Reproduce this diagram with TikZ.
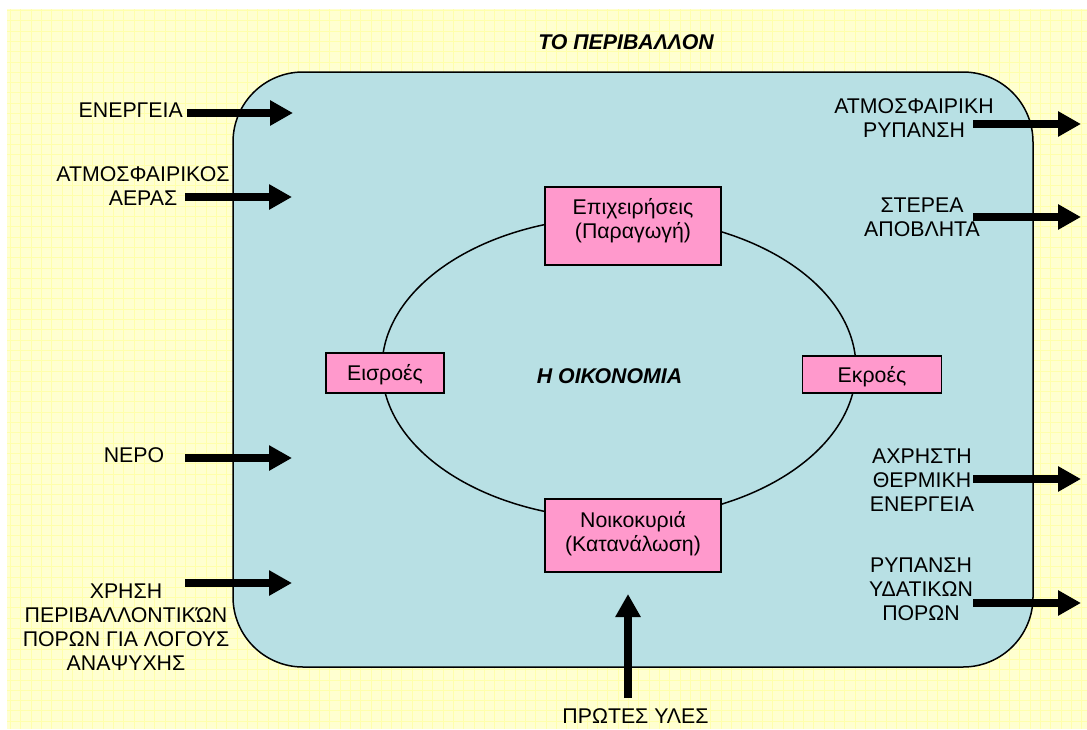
\documentclass[tikz,border=0pt]{standalone}
\usepackage{fontspec}
\setmainfont{Liberation Sans}
\usetikzlibrary{arrows.meta}
\definecolor{bgyellow}{RGB}{255,255,208}
\definecolor{gridyellow}{RGB}{255,255,172}
\definecolor{envblue}{RGB}{184,224,228}
\definecolor{boxpink}{RGB}{255,153,204}
\begin{document}
\begin{tikzpicture}[x=1pt,y=-1pt,
  lbl/.style={font=\fontsize{21.3}{24}\selectfont, align=center, inner sep=0pt},
  titlelbl/.style={font=\fontsize{21.3}{24}\selectfont\bfseries\itshape, inner sep=0pt},
  ecobox/.style={draw=black, line width=1.5pt, fill=boxpink, inner sep=0pt},
  boxtext/.style={font=\fontsize{21.3}{24}\selectfont, text height=15pt, text depth=0pt},
  bigarrow/.style={line width=8pt, -{Triangle[width=24pt,length=23pt]}}]
\useasboundingbox (0,0) rectangle (1087,729);
% background
\fill[bgyellow] (7,9) rectangle (1087,729);
\draw[gridyellow, line width=0.6pt, step=10.3pt] (7,9) grid (1087,729);
% environment
\draw[line width=1.5pt, fill=envblue, rounded corners=70pt] (233,72) rectangle (1033,667);
\node[titlelbl] (env) at (626,42.5) {ΤΟ ΠΕΡΙΒΑΛΛΟΝ};
% economy circle
\draw[line width=1.5pt] (619,368) ellipse [x radius=237, y radius=151];
\node[titlelbl] (economy) at (609.5,376) {Η ΟΙΚΟΝΟΜΙΑ};
% boxes
\node[ecobox, minimum width=176pt, minimum height=78pt] (firms) at (633,226) {};
\node[lbl] (firmstext) at (633,221) {Επιχειρήσεις\\(Παραγωγή)};
\node[ecobox, minimum width=176pt, minimum height=73pt] (house) at (633,535.5) {};
\node[lbl] (housetext) at (633,534) {Νοικοκυριά\\(Κατανάλωση)};
\node[ecobox, boxtext, minimum width=118pt, minimum height=40pt] (inputs) at (385,373) {Εισροές};
\node[ecobox, boxtext, minimum width=139pt, minimum height=37pt] (outputs) at (872,374.5) {Εκροές};
% left labels
\node[lbl, anchor=east] (energy) at (183,110.5) {ΕΝΕΡΓΕΙΑ};
\node[lbl] (air) at (143,186) {ΑΤΜΟΣΦΑΙΡΙΚΟΣ\\ΑΕΡΑΣ};
\node[lbl] (water) at (134,455.5) {ΝΕΡΟ};
\node[lbl] (recr) at (126,627) {ΧΡΗΣΗ\\ΠΕΡΙΒΑΛΛΟΝΤΙΚΏΝ\\ΠΟΡΩΝ ΓΙΑ ΛΟΓΟΥΣ\\ΑΝΑΨΥΧΗΣ};
% right labels
\node[lbl] (airpol) at (914,118) {ΑΤΜΟΣΦΑΙΡΙΚΗ\\ΡΥΠΑΝΣΗ};
\node[lbl] (solid) at (922,217.5) {ΣΤΕΡΕΑ\\ΑΠΟΒΛΗΤΑ};
\node[lbl] (heat) at (922,480.5) {ΑΧΡΗΣΤΗ\\ΘΕΡΜΙΚΗ\\ΕΝΕΡΓΕΙΑ};
\node[lbl] (waterpol) at (921,589) {ΡΥΠΑΝΣΗ\\ΥΔΑΤΙΚΩΝ\\ΠΟΡΩΝ};
% bottom label
\node[lbl] (raw) at (635.5,716) {ΠΡΩΤΕΣ ΥΛΕΣ};
% arrow coordinates
\coordinate (s1) at (187,113);  \coordinate (t1) at (293,113);
\coordinate (s2) at (185,197);  \coordinate (t2) at (292,197);
\coordinate (s3) at (185,458);  \coordinate (t3) at (292,458);
\coordinate (s4) at (185,583);  \coordinate (t4) at (292,583);
\coordinate (s5) at (973,124);  \coordinate (t5) at (1081,124);
\coordinate (s6) at (973,217);  \coordinate (t6) at (1081,217);
\coordinate (s7) at (973,479);  \coordinate (t7) at (1081,479);
\coordinate (s8) at (973,603);  \coordinate (t8) at (1081,603);
\coordinate (s9) at (628,698);  \coordinate (t9) at (628,594);
\foreach \i in {1,...,9} {\draw[bigarrow] (s\i) -- (t\i);}
\end{tikzpicture}
\end{document}
